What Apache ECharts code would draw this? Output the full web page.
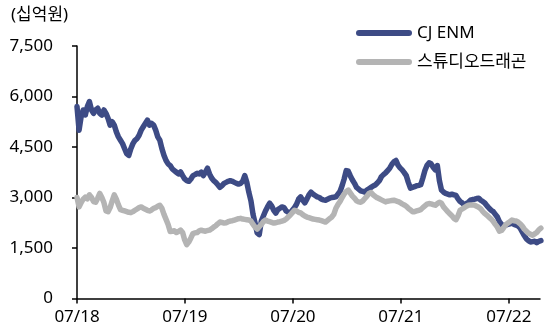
<!DOCTYPE html>
<html>
<head>
<meta charset="utf-8">
<script src="https://cdn.jsdelivr.net/npm/echarts@6/dist/echarts.min.js"></script>
<style>
  html, body { margin: 0; padding: 0; background: #fff; }
  #chart { width: 557px; height: 331px; }
</style>
</head>
<body>
<div id="chart"></div>
<script>
// Market capitalisation (십억원), weekly closes starting 2018-07-02
const START_DATE = '2018-07-02';
const STEP_DAYS = 7;
const seriesNames = ['CJ ENM', '스튜디오드래곤'];
const unitLabel = '(십억원)';
const xTickLabels = ['07/18', '07/19', '07/20', '07/21', '07/22'];
const yTicks = [0, 1500, 3000, 4500, 6000, 7500];

const cjEnm = [
  5700, 5000, 5400, 5600, 5450, 5700, 5850, 5600, 5500, 5600,
  5650, 5500, 5450, 5600, 5500, 5350, 5150, 5250, 5150, 4950,
  4800, 4700, 4600, 4450, 4300, 4250, 4450, 4600, 4700, 4750,
  4850, 5000, 5100, 5200, 5300, 5150, 5200, 5150, 5000, 4800,
  4700, 4450, 4250, 4100, 4000, 3950, 3850, 3800, 3750, 3700,
  3760, 3650, 3550, 3500, 3480, 3550, 3650, 3680, 3720, 3700,
  3750, 3650, 3750, 3870, 3700, 3580, 3500, 3450, 3380, 3300,
  3350, 3420, 3450, 3480, 3500, 3480, 3450, 3420, 3400, 3420,
  3480, 3650, 3450, 3150, 2900, 2500, 2240, 1950, 1900, 2300,
  2450, 2600, 2720, 2830, 2750, 2620, 2540, 2640, 2680, 2720,
  2700, 2600, 2560, 2540, 2620, 2700, 2800, 2950, 3020, 2920,
  2840, 2950, 3080, 3160, 3100, 3060, 3020, 3000, 2950, 2930,
  2920, 2950, 2980, 3000, 3010, 3020, 3100, 3180, 3350, 3550,
  3800, 3780, 3640, 3520, 3420, 3300, 3250, 3200, 3180, 3160,
  3220, 3260, 3300, 3340, 3370, 3430, 3500, 3620, 3680, 3730,
  3800, 3870, 3980, 4060, 4100, 3960, 3880, 3820, 3740, 3650,
  3450, 3280, 3300, 3320, 3350, 3360, 3380, 3580, 3800, 3950,
  4030, 4000, 3900, 3820, 3950, 3500, 3220, 3160, 3120, 3100,
  3080, 3100, 3080, 3060, 2960, 2880, 2840, 2780, 2820, 2860,
  2920, 2940, 2950, 2970, 2980, 2920, 2880, 2830, 2750, 2680,
  2620, 2580, 2500, 2420, 2280, 2200, 2150, 2180, 2200, 2220,
  2250, 2200, 2180, 2150, 2090, 1980, 1870, 1770, 1720, 1680,
  1690, 1700, 1660, 1700, 1720
];

const studioDragon = [
  3000, 2720, 2850, 2950, 3010, 2960, 3080, 3000, 2880, 2860,
  2980, 3120, 3000, 2850, 2600, 2580, 2700, 2900, 3080, 2950,
  2780, 2640, 2620, 2600, 2580, 2560, 2550, 2580, 2620, 2660,
  2700, 2720, 2680, 2650, 2620, 2600, 2630, 2680, 2700, 2740,
  2770, 2680, 2500, 2350, 2200, 1990, 2000, 2010, 1960, 1990,
  2030, 1960, 1740, 1600, 1680, 1800, 1930, 1950, 1960, 2010,
  2030, 2010, 2000, 2020, 2030, 2070, 2120, 2160, 2220, 2270,
  2260, 2240, 2250, 2280, 2300, 2310, 2330, 2350, 2370, 2380,
  2360, 2350, 2340, 2330, 2300, 2200, 2120, 2060, 2130, 2200,
  2280, 2330, 2300, 2280, 2260, 2240, 2250, 2270, 2280, 2300,
  2320, 2360, 2420, 2480, 2550, 2620, 2600, 2560, 2540, 2490,
  2450, 2420, 2400, 2380, 2360, 2350, 2340, 2330, 2310, 2290,
  2270, 2320, 2370, 2420, 2500, 2680, 2790, 2880, 3000, 3100,
  3180, 3220, 3130, 3040, 2980, 2900, 2870, 2860, 2900, 2970,
  3040, 3120, 3150, 3080, 3030, 2990, 2960, 2930, 2900, 2870,
  2890, 2900, 2910, 2920, 2900, 2880, 2850, 2810, 2780, 2740,
  2680, 2630, 2580, 2580, 2600, 2620, 2640, 2700, 2750, 2800,
  2820, 2810, 2790, 2770, 2820, 2860, 2830, 2720, 2650, 2580,
  2520, 2460, 2380, 2340, 2460, 2620, 2660, 2700, 2740, 2770,
  2780, 2780, 2770, 2740, 2710, 2660, 2580, 2520, 2470, 2410,
  2360, 2290, 2200, 2120, 2000, 2020, 2100, 2190, 2240, 2280,
  2330, 2310, 2300, 2270, 2220, 2150, 2060, 2000, 1940, 1910,
  1880, 1920, 1960, 2040, 2090
];

// x is measured in days since the start date; one label per July
const DAYS_PER_YEAR = 365;
const xTickValues = xTickLabels.map((_, i) => i * DAYS_PER_YEAR);
const X_MAX = 1565;

const toPoints = arr => arr.map((v, i) => [i * STEP_DAYS, v]);

const FONT = "'Noto Sans', 'Noto Sans CJK KR', sans-serif";
const colors = ['#3d4b85', '#b4b4b4'];

const chart = echarts.init(document.getElementById('chart'), null, { renderer: 'canvas' });
chart.setOption({
  animation: false,
  backgroundColor: '#ffffff',
  color: colors,
  textStyle: { fontFamily: FONT },
  graphic: [{
    type: 'text',
    left: 11,
    top: 7,
    style: { text: unitLabel, font: `17px ${FONT}`, fill: '#000' }
  }],
  legend: {
    orient: 'vertical',
    left: 351,
    top: 18,
    itemWidth: 56,
    itemHeight: 6,
    itemGap: 9,
    icon: 'path://M3,0 L53,0 A3,3 0 0 1 53,6 L3,6 A3,3 0 0 1 3,0 Z',
    textStyle: { fontSize: 17, color: '#000', fontFamily: FONT, lineHeight: 20 },
    data: seriesNames
  },
  grid: {
    left: 77,
    right: 17,
    top: 46,
    bottom: 32.5,
    containLabel: false,
    outerBoundsMode: 'none'
  },
  xAxis: {
    type: 'value',
    min: 0,
    max: X_MAX,
    axisLine: { show: true, lineStyle: { color: '#000', width: 1.5 } },
    axisTick: { show: true, length: 5, customValues: xTickValues, lineStyle: { color: '#000', width: 1.5 } },
    axisLabel: {
      customValues: xTickValues,
      formatter: v => xTickLabels[Math.round(v / DAYS_PER_YEAR)] || '',
      fontSize: 17,
      color: '#000',
      margin: 10,
      fontFamily: FONT
    },
    splitLine: { show: false }
  },
  yAxis: {
    type: 'value',
    min: yTicks[0],
    max: yTicks[yTicks.length - 1],
    interval: yTicks[1] - yTicks[0],
    axisLine: { show: true, lineStyle: { color: '#000', width: 1.5 } },
    axisTick: { show: true, length: 5, lineStyle: { color: '#000', width: 1.5 } },
    axisLabel: {
      formatter: v => v.toLocaleString('en-US'),
      fontSize: 17,
      color: '#000',
      margin: 24,
      fontFamily: FONT
    },
    splitLine: { show: false }
  },
  series: [
    {
      name: seriesNames[0],
      type: 'line',
      data: toPoints(cjEnm),
      showSymbol: false,
      symbol: 'none',
      lineStyle: { width: 5.5, color: colors[0], cap: 'round', join: 'round' },
      z: 2
    },
    {
      name: seriesNames[1],
      type: 'line',
      data: toPoints(studioDragon),
      showSymbol: false,
      symbol: 'none',
      lineStyle: { width: 5.5, color: colors[1], cap: 'round', join: 'round' },
      z: 3
    }
  ]
});
</script>
</body>
</html>
